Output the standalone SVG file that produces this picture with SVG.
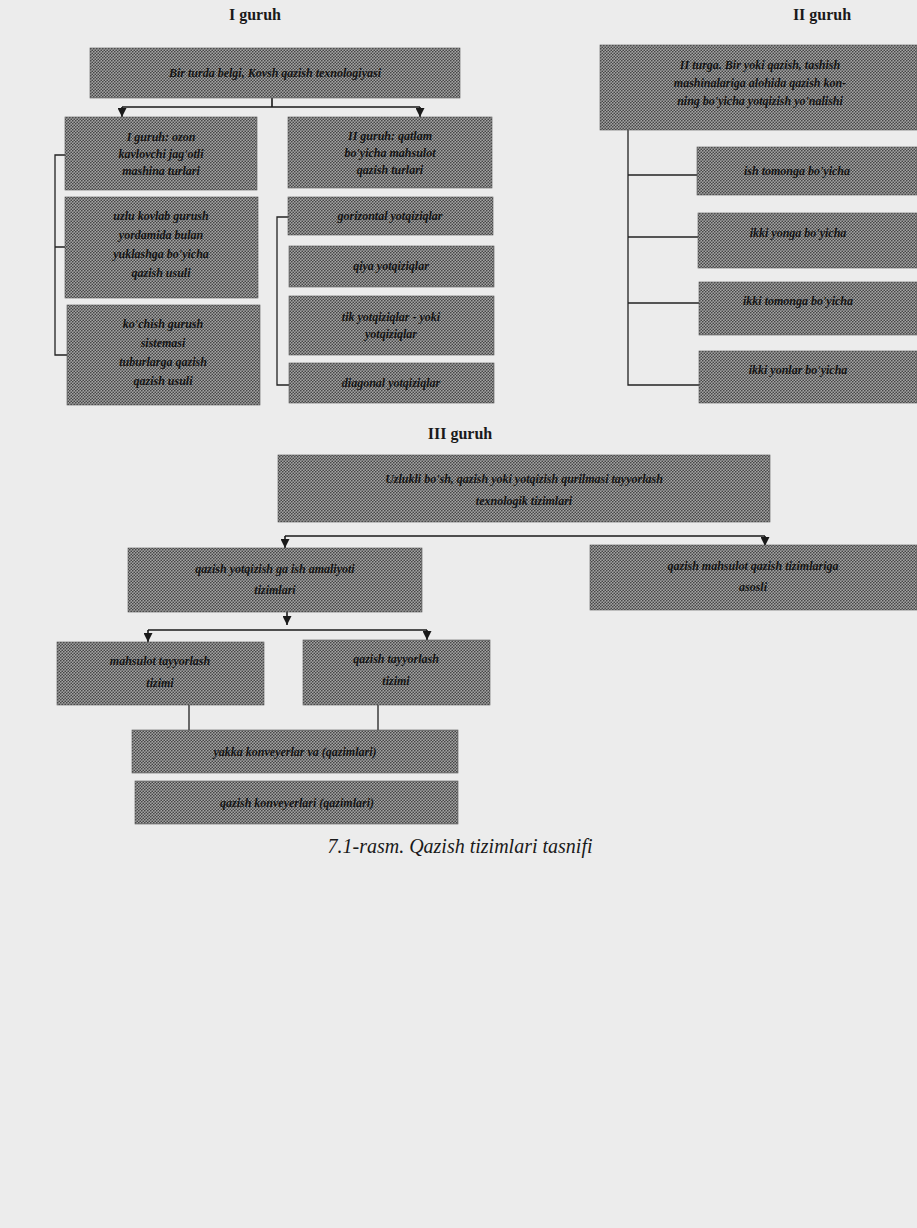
<svg xmlns="http://www.w3.org/2000/svg" width="917" height="1228" viewBox="0 0 917 1228">
<defs>
<pattern id="ht" width="3" height="3" patternUnits="userSpaceOnUse">
<rect width="3" height="3" fill="#a4a4a4"/>
<circle cx="0.75" cy="0.75" r="0.85" fill="#454545"/>
<circle cx="2.25" cy="2.25" r="0.85" fill="#454545"/>
</pattern>
<marker id="ar" viewBox="0 0 10 10" refX="10" refY="5" markerWidth="9" markerHeight="9" orient="auto" markerUnits="userSpaceOnUse">
<path d="M0,0 L10,5 L0,10 Z" fill="#1a1a1a"/>
</marker>
<style>
.box{fill:url(#ht);stroke:#555;stroke-width:0.6}
.t{font-family:"Liberation Serif",serif;font-style:italic;font-weight:bold;font-size:12px;fill:#141414;text-anchor:middle}
.h{font-family:"Liberation Serif",serif;font-weight:bold;font-size:16px;fill:#1a1a1a;text-anchor:middle}
.cap{font-family:"Liberation Serif",serif;font-style:italic;font-size:20px;fill:#1a1a1a;text-anchor:middle}
.ln{stroke:#1a1a1a;stroke-width:1.6;fill:none}
.lt{stroke:#222;stroke-width:1.3;fill:none}
</style>
</defs>
<rect width="917" height="1228" fill="#ececec"/>

<text class="h" x="255" y="20">I guruh</text>
<text class="h" x="822" y="20">II guruh</text>
<text class="h" x="460" y="439">III guruh</text>

<g id="connectors">
<path class="ln" d="M272,98 V107"/>
<path class="ln" d="M122,107 H420"/>
<path class="ln" d="M122,107 V117" marker-end="url(#ar)"/>
<path class="ln" d="M420,107 V117" marker-end="url(#ar)"/>
<path class="lt" d="M65,155 H55 V355 H67 M55,247 H65"/>
<path class="lt" d="M288,217 H277 V385 H289"/>
<path class="lt" d="M628,130 V385 H699 M628,175 H697 M628,237 H698 M628,303 H699"/>
<path class="ln" d="M285,536 H765"/>
<path class="ln" d="M285,536 V548" marker-end="url(#ar)"/>
<path class="ln" d="M765,536 V546" marker-end="url(#ar)"/>
<path class="ln" d="M287,612 V625" marker-end="url(#ar)"/>
<path class="ln" d="M148,630 H427"/>
<path class="ln" d="M148,630 V642" marker-end="url(#ar)"/>
<path class="ln" d="M427,630 V640" marker-end="url(#ar)"/>
<path class="lt" d="M189,705 V730 M378,705 V730"/>
</g>

<g id="nA"><rect class="box" x="90" y="48" width="370" height="50"/><text class="t" x="275" y="77">Bir turda belgi, Kovsh qazish texnologiyasi</text></g>
<g id="nB"><rect class="box" x="65" y="117" width="192" height="73"/><text class="t" x="161" y="141">I guruh: ozon</text><text class="t" x="161" y="158">kavlovchi jag'otli</text><text class="t" x="161" y="175">mashina turlari</text></g>
<g id="nC"><rect class="box" x="288" y="117" width="204" height="71"/><text class="t" x="390" y="140">II guruh: qatlam</text><text class="t" x="390" y="157">bo'yicha mahsulot</text><text class="t" x="390" y="174">qazish turlari</text></g>
<g id="nD"><rect class="box" x="65" y="197" width="193" height="101"/><text class="t" x="161" y="220">uzlu kovlab gurush</text><text class="t" x="161" y="239">yordamida bulan</text><text class="t" x="161" y="258">yuklashga bo'yicha</text><text class="t" x="161" y="277">qazish usuli</text></g>
<g id="nE"><rect class="box" x="67" y="305" width="193" height="100"/><text class="t" x="163" y="328">ko'chish gurush</text><text class="t" x="163" y="347">sistemasi</text><text class="t" x="163" y="366">tuburlarga qazish</text><text class="t" x="163" y="385">qazish usuli</text></g>
<g id="nF"><rect class="box" x="288" y="197" width="205" height="38"/><text class="t" x="390" y="220">gorizontal yotqiziqlar</text></g>
<g id="nG"><rect class="box" x="289" y="246" width="205" height="41"/><text class="t" x="391" y="270">qiya yotqiziqlar</text></g>
<g id="nH"><rect class="box" x="289" y="296" width="205" height="59"/><text class="t" x="391" y="321">tik yotqiziqlar - yoki</text><text class="t" x="391" y="338">yotqiziqlar</text></g>
<g id="nI"><rect class="box" x="289" y="363" width="205" height="40"/><text class="t" x="391" y="387">diagonal yotqiziqlar</text></g>

<g id="nJ"><rect class="box" x="600" y="45" width="317" height="85"/><text class="t" x="760" y="69">II turga. Bir yoki qazish, tashish</text><text class="t" x="760" y="87">mashinalariga alohida qazish kon-</text><text class="t" x="760" y="105">ning bo'yicha yotqizish yo'nalishi</text></g>
<g id="nK1"><rect class="box" x="697" y="147" width="220" height="48"/><text class="t" x="797" y="175">ish tomonga bo'yicha</text></g>
<g id="nK2"><rect class="box" x="698" y="213" width="219" height="55"/><text class="t" x="798" y="237">ikki yonga bo'yicha</text></g>
<g id="nK3"><rect class="box" x="699" y="282" width="218" height="53"/><text class="t" x="798" y="305">ikki tomonga bo'yicha</text></g>
<g id="nK4"><rect class="box" x="699" y="351" width="218" height="52"/><text class="t" x="798" y="374">ikki yonlar bo'yicha</text></g>

<g id="nL"><rect class="box" x="278" y="455" width="492" height="67"/><text class="t" x="524" y="483">Uzlukli bo'sh, qazish yoki yotqizish qurilmasi tayyorlash</text><text class="t" x="524" y="505">texnologik tizimlari</text></g>
<g id="nM"><rect class="box" x="128" y="548" width="294" height="64"/><text class="t" x="275" y="573">qazish yotqizish ga ish amaliyoti</text><text class="t" x="275" y="594">tizimlari</text></g>
<g id="nN"><rect class="box" x="590" y="545" width="327" height="65"/><text class="t" x="753" y="570">qazish mahsulot qazish tizimlariga</text><text class="t" x="753" y="591">asosli</text></g>
<g id="nO"><rect class="box" x="57" y="642" width="207" height="63"/><text class="t" x="160" y="665">mahsulot tayyorlash</text><text class="t" x="160" y="687">tizimi</text></g>
<g id="nP"><rect class="box" x="303" y="640" width="187" height="65"/><text class="t" x="396" y="663">qazish tayyorlash</text><text class="t" x="396" y="685">tizimi</text></g>
<g id="nQ"><rect class="box" x="132" y="730" width="326" height="43"/><text class="t" x="295" y="756">yakka konveyerlar va (qazimlari)</text></g>
<g id="nR"><rect class="box" x="135" y="781" width="323" height="43"/><text class="t" x="297" y="807">qazish konveyerlari (qazimlari)</text></g>

<text class="cap" x="460" y="853">7.1-rasm. Qazish tizimlari tasnifi</text>
</svg>
